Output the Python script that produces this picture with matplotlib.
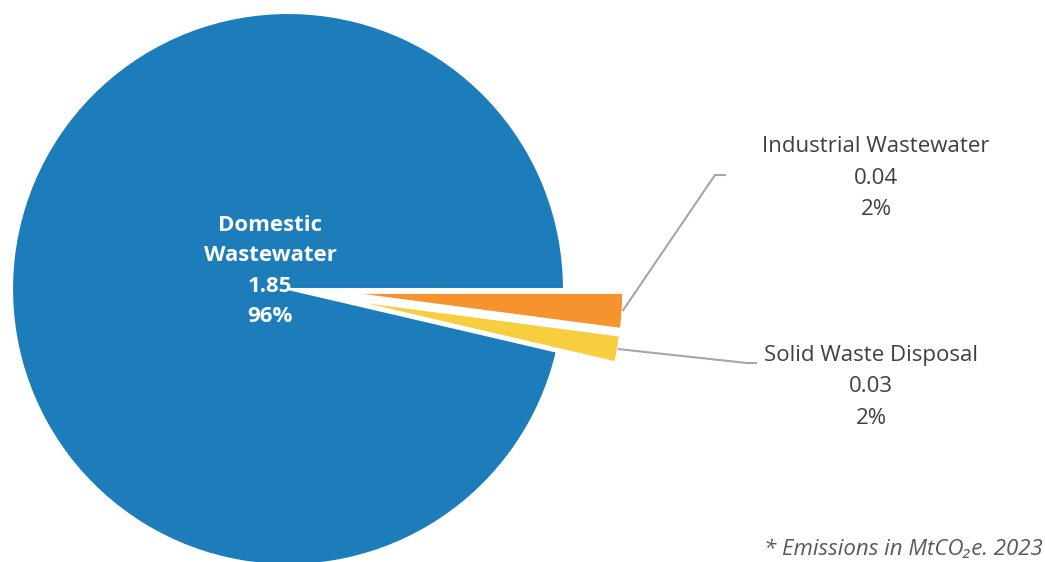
import numpy as np
import matplotlib
matplotlib.use("Agg")
import matplotlib.pyplot as plt

categories = ["Domestic Wastewater", "Industrial Wastewater", "Solid Waste Disposal"]
values = [1.85, 0.04, 0.03]
pct_labels = ["96%", "2%", "2%"]
colors = ["#1C7DBA", "#F7932F", "#F6CE3E"]
explode = [0.0, 0.215, 0.215]

plt.rcParams['font.family'] = ['Open Sans', 'DejaVu Sans']

W, H = 1045, 562
fig = plt.figure(figsize=(W / 100, H / 100), dpi=100)
ax = fig.add_axes([0, 0, 1, 1])
R_PX = 276.0
CX, CY = 288.0, 289.0  # pixel centre (from top)

def px(x, y):
    return ((x - CX) / R_PX, (CY - y) / R_PX)

total = sum(values)
start = -360.0 * (total - values[0]) / total
wedges, _ = ax.pie(values, colors=colors, explode=explode, radius=1.0,
                   startangle=start, counterclock=False,
                   wedgeprops=dict(edgecolor='white', linewidth=1.5))
ax.set_xlim(-CX / R_PX, (W - CX) / R_PX)
ax.set_ylim(-(H - CY) / R_PX, CY / R_PX)
ax.set_aspect('auto')
ax.axis('off')

# Domestic label inside
tx, ty = px(270, 271)
ax.text(tx, ty, "Domestic\nWastewater\n%.2f\n%s" % (values[0], pct_labels[0]),
        ha='center', va='center', color='white', fontsize=16, fontweight='bold',
        linespacing=1.6)

grey = "#404040"
line_c = "#A6A6A6"
label_pos = [None, px(876, 178), px(871, 387)]
knees = [None, [px(715, 175), px(726, 175)], [px(747, 363), px(757, 363)]]
for i in (1, 2):
    w = wedges[i]
    ang = np.deg2rad((w.theta1 + w.theta2) / 2)
    r = 1.0 + explode[i]
    sx, sy = r * np.cos(ang), r * np.sin(ang)
    xs = [sx] + [k[0] for k in knees[i]]
    ys = [sy] + [k[1] for k in knees[i]]
    ax.plot(xs, ys, color=line_c, lw=1.5, solid_capstyle='butt')
    ax.text(label_pos[i][0], label_pos[i][1],
            "%s\n%.2f\n%s" % (categories[i], values[i], pct_labels[i]),
            ha='center', va='center', color=grey, fontsize=16, linespacing=1.66)

fig.text(1043 / W, 1 - 550 / H, "* Emissions in MtCO\u2082e. 2023", ha='right', va='center',
         style='italic', fontsize=16, color="#595959")

fig.savefig("out.png", dpi=100)
